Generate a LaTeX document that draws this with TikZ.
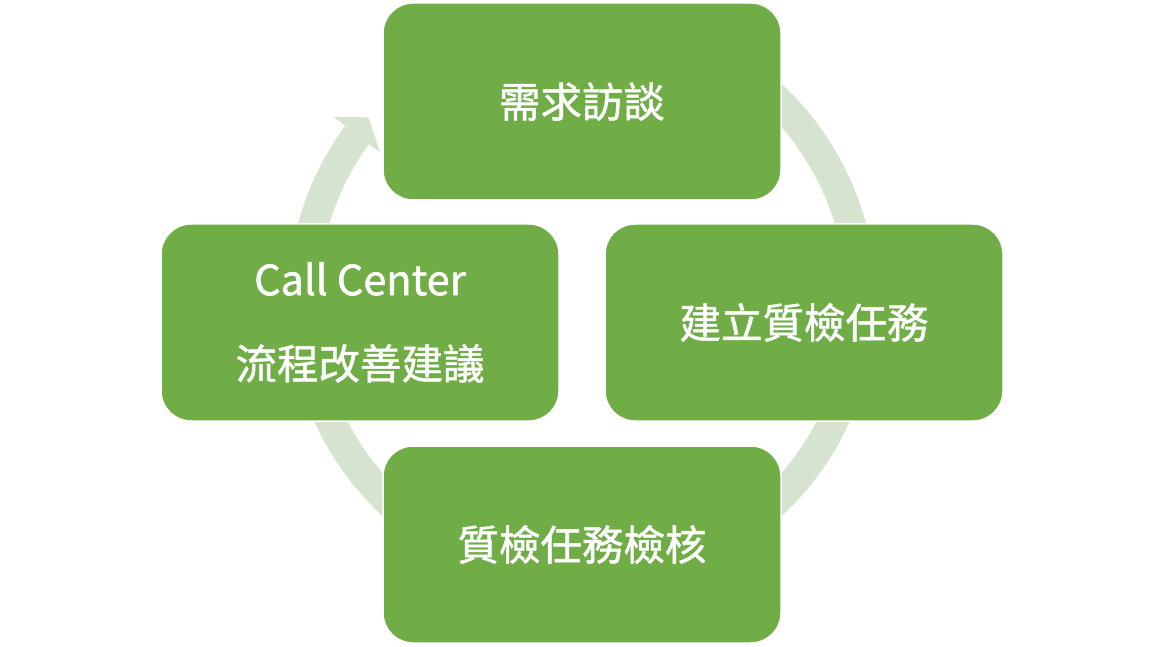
\documentclass[tikz,border=0pt]{standalone}
\usepackage{fontspec}
\setmainfont{Noto Sans CJK TC}[FakeBold=1.2]
\usetikzlibrary{calc}
\definecolor{boxgreen}{RGB}{112,173,71}
\definecolor{ringgreen}{RGB}{213,227,207}
\tikzset{
  stagebox/.style={rectangle, rounded corners=30pt, fill=boxgreen, draw=white,
    line width=1.5pt, minimum width=398pt, minimum height=197pt,
    text=white, align=center, inner sep=0pt,
    font=\fontsize{41.5}{84}\selectfont},
  ringline/.style={draw=ringgreen, line width=30pt},
  ringhead/.style={fill=ringgreen}
}
\begin{document}
\begin{tikzpicture}[x=1pt,y=1pt]
\useasboundingbox (0,0) rectangle (1164,646);
\coordinate (C) at (582,346);
\coordinate (ringstart) at ($(C)+(430:279)$);
% cycle ring
\draw[ringline] (ringstart) arc[start angle=430, end angle=143.7, radius=279];
\coordinate (barbout) at ($(C)+(143.6:308.5)$);
\coordinate (barbin) at ($(C)+(143.8:250.5)$);
\coordinate (tip) at ($(C)+(139.45:281)$);
\fill[ringhead] (barbout) -- (tip) -- (barbin) -- cycle;
% stages
\node[stagebox] (top) at (582,544.5) {需求訪談};
\node[stagebox] (right) at (804,323.5) {建立質檢任務};
\node[stagebox] (bottom) at (582,101.5) {質檢任務檢核};
\node[stagebox] (left) at (360,323.5) {Call Center\\流程改善建議};
\end{tikzpicture}
\end{document}
